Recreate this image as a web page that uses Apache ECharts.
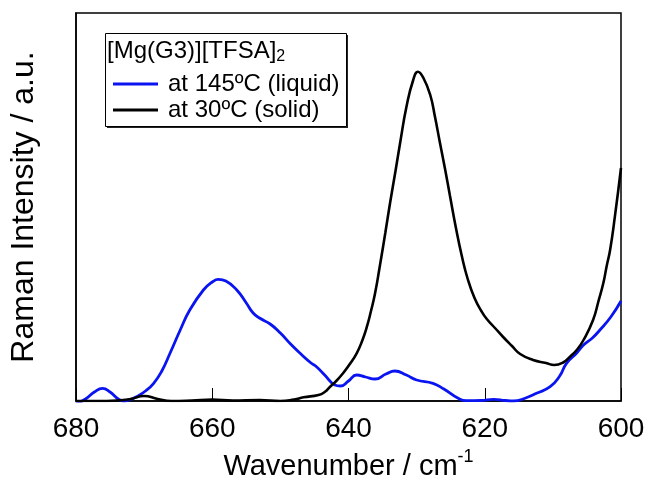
<!DOCTYPE html>
<html>
<head>
<meta charset="utf-8">
<script src="https://cdn.jsdelivr.net/npm/echarts@6/dist/echarts.min.js"></script>
<style>html,body{margin:0;padding:0;background:#fff}#c{width:648px;height:480px}</style>
</head>
<body>
<div id="c"></div>
<script>
const xTicks = [680, 660, 640, 620, 600];
const seriesNames = ['at 145ºC (liquid)', 'at 30ºC (solid)'];
const legendTitle = '[Mg(G3)][TFSA]';
// [wavenumber, intensity]
const liquid145 = [[680,-3],[678.6,2],[677.3,9],[676.1,12.7],[675,9],[673.8,2],[673,0],[672,1.5],[671.1,4.3],[669.8,10],[668.6,17.7],[667.4,30],[666.2,47.7],[664.7,71],[663.3,91],[661.3,111],[660,119],[659.1,121.7],[658,120],[656.4,111],[655,98],[654,88],[653,82.7],[651.5,77],[650,68],[648.5,57],[647.1,47.7],[645.5,38],[644.7,34.3],[643.5,26],[642,16],[641.2,15],[640,20],[638.8,26],[637.5,24],[636.1,22],[634.5,27],[633.2,30],[631.5,26],[630,21],[627.6,17.7],[626,12],[623.9,2.7],[622.7,0.3],[620.5,0.5],[618.7,1.7],[617,0.5],[615.8,0],[614,3],[612.4,7.7],[610.4,14.3],[609,25],[608,37.7],[606.5,48],[605.5,56],[604.2,63],[603.1,71],[601.5,84],[600,100]];
const solid30 = [[680,0],[677,0],[674,0.5],[672,2],[670,5],[668,2],[666,0],[663,0.5],[660,1.5],[657,0.5],[653,1],[650,0],[648,1.5],[646.6,3.7],[644.4,6],[643.5,9],[642.7,14.3],[641.8,20],[640.8,27.7],[639.8,37],[638.8,47.7],[638,60],[637.3,74.3],[636.7,90],[636.1,107.7],[635.4,135],[634.6,168],[633.9,198],[633.1,230],[632.4,259],[631.5,294],[630.5,321],[629.8,329.3],[629,323],[628,306],[627.3,284],[626.6,259],[625.8,231],[625.1,205],[624.2,172],[623.4,146],[622.5,122],[621.5,103],[620.5,90],[619.7,82],[618.5,73],[617.3,64],[616,55],[614.8,47],[612.9,41],[611,38],[609.8,36],[608.5,38.5],[607.5,44.3],[606.5,51],[605.5,61],[604.1,81],[603.3,100],[602.6,117.7],[602.1,135],[601.6,151],[600.9,184.3],[600,233]];

const chart = echarts.init(document.getElementById('c'));
const FONT = 'Liberation Sans, Arial, sans-serif';
chart.setOption({
  animation: false,
  grid: {left: 76, right: 27, top: 13, bottom: 79, show: true, borderColor: '#000', borderWidth: 1.5,
    backgroundColor: 'transparent', containLabel: false, outerBoundsMode: 'none'},
  xAxis: {
    type: 'value', inverse: true, min: 600, max: 680, interval: 20,
    axisLine: {show: true, lineStyle: {color: '#000', width: 1.5}},
    axisTick: {show: true, inside: true, length: 13, lineStyle: {color: '#000', width: 1}},
    splitLine: {show: false},
    axisLabel: {color: '#000', fontSize: 28, fontFamily: FONT, margin: 14,
      formatter: v => xTicks.includes(v) ? String(v) : ''},
    name: 'Wavenumber / cm{sup|-1}', nameLocation: 'middle', nameGap: 48,
    nameTextStyle: {color: '#000', fontSize: 29, fontFamily: FONT, verticalAlign: 'bottom',
      rich: {sup: {fontSize: 18, fontFamily: FONT, color: '#000', verticalAlign: 'bottom', padding: [0, 0, 20, 0]}}}
  },
  yAxis: {
    type: 'value', min: 0, max: 388,
    axisLine: {show: true, lineStyle: {color: '#000', width: 1.5}},
    axisTick: {show: false}, axisLabel: {show: false}, splitLine: {show: false},
    name: 'Raman Intensity / a.u.', nameLocation: 'middle', nameGap: 36,
    nameTextStyle: {color: '#000', fontSize: 32, fontFamily: FONT}
  },
  legend: {
    orient: 'vertical', left: 113, top: 72, itemWidth: 45, itemHeight: 3, itemGap: 2,
    icon: 'rect', z: 120, padding: 0,
    textStyle: {color: '#000', fontSize: 24, fontFamily: FONT, padding: [0, 0, 0, 5]},
    data: seriesNames
  },
  graphic: [
    {type: 'rect', left: 107, top: 35, shape: {width: 241, height: 93}, style: {fill: '#222'}, z: 1},
    {type: 'rect', left: 105, top: 33, shape: {width: 241, height: 93}, style: {fill: '#fff', stroke: '#000', lineWidth: 1}, z: 2},
    {type: 'text', left: 107, top: 39, z: 100, style: {
      text: legendTitle + '{s|2}', fill: '#000', font: '24px ' + FONT,
      rich: {s: {fontSize: 16, fontFamily: FONT, fill: '#000', padding: [12, 0, 0, 0]}}}}
  ],
  series: [
    {name: seriesNames[0], type: 'line', data: liquid145, smooth: 0.5, symbol: 'none',
      lineStyle: {color: '#0a14f0', width: 2.8}, itemStyle: {color: '#0a14f0'}, z: 3},
    {name: seriesNames[1], type: 'line', data: solid30, smooth: 0.5, symbol: 'none',
      lineStyle: {color: '#000', width: 2.6}, itemStyle: {color: '#000'}, z: 4}
  ]
});
</script>
</body>
</html>
